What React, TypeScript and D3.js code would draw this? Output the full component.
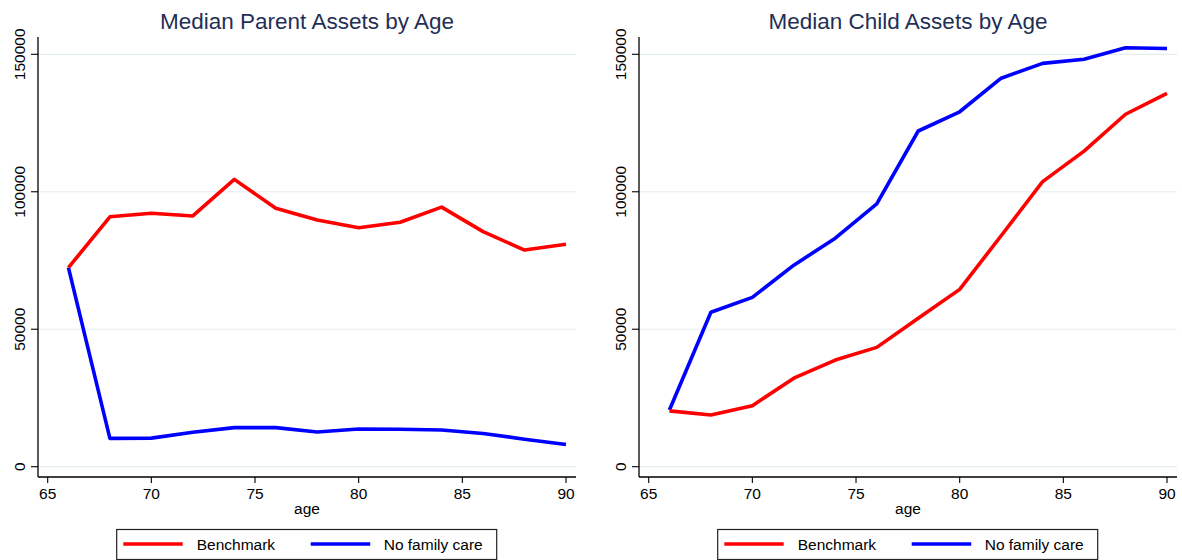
import React from "react";
import * as d3 from "d3";

const ages = [66, 68, 70, 72, 74, 76, 78, 80, 82, 84, 86, 88, 90];
const parentBenchmark = [72400, 90900, 92200, 91200, 104500, 94000, 89700, 86900, 88900, 94400, 85500, 78800, 80900];
const parentNoFamilyCare = [72400, 10300, 10400, 12500, 14200, 14200, 12600, 13700, 13600, 13350, 12100, 10000, 8100];
const childBenchmark = [20300, 18800, 22200, 32200, 38800, 43400, 54000, 64500, 84000, 103700, 114800, 128200, 135800];
const childNoFamilyCare = [20600, 56200, 61600, 73300, 83100, 95600, 122100, 129100, 141300, 146700, 148200, 152400, 152100];
const xTicks = [65, 70, 75, 80, 85, 90];
const yTicks = [0, 50000, 100000, 150000];
const titles = ["Median Parent Assets by Age", "Median Child Assets by Age"];
const seriesNames = ["Benchmark", "No family care"];
const seriesColors = ["#ff0000", "#0000ff"];

const FONT = "'Liberation Sans', Arial, Helvetica, sans-serif";

type PanelProps = { ox: number; title: string; bench: number[]; nfc: number[] };

function Panel({ ox, title, bench, nfc }: PanelProps) {
  const axisLeft = 38;
  const axisRight = 576;
  const axisTop = 37;
  const axisBottom = 477;
  const x = d3.scaleLinear().domain([65, 90]).range([47.7, 566]);
  const y = d3.scaleLinear().domain([0, 150000]).range([466.7, 54.3]);
  const line = d3
    .line<number>()
    .x((_, i) => x(ages[i]))
    .y((d) => y(d));
  const legendLeft = 116.7;
  const legendW = 380;
  return (
    <g transform={`translate(${ox},0)`}>
      <text
        x={(axisLeft + axisRight) / 2}
        y={28.5}
        textAnchor="middle"
        fontFamily={FONT}
        fontSize={22.5}
        fill="#1f2f55"
      >
        {title}
      </text>
      {yTicks.map((t) => (
        <line key={"g" + t} x1={axisLeft} x2={axisRight} y1={y(t)} y2={y(t)} stroke="#e4edf0" strokeWidth={1.2} />
      ))}
      <path d={line(nfc) || ""} fill="none" stroke={seriesColors[1]} strokeWidth={3.6} strokeLinejoin="round" />
      <path d={line(bench) || ""} fill="none" stroke={seriesColors[0]} strokeWidth={3.6} strokeLinejoin="round" />
      <line x1={axisLeft} x2={axisLeft} y1={axisTop} y2={axisBottom} stroke="#000" strokeWidth={1.3} />
      <line x1={axisLeft} x2={axisRight} y1={axisBottom} y2={axisBottom} stroke="#000" strokeWidth={1.3} />
      {yTicks.map((t) => (
        <g key={"y" + t}>
          <line x1={axisLeft - 7} x2={axisLeft} y1={y(t)} y2={y(t)} stroke="#000" strokeWidth={1.1} />
          <text
            transform={`translate(${25},${y(t)}) rotate(-90)`}
            textAnchor="middle"
            fontFamily={FONT}
            fontSize={15.5}
            fill="#000"
          >
            {String(t)}
          </text>
        </g>
      ))}
      {xTicks.map((t) => (
        <g key={"x" + t}>
          <line x1={x(t)} x2={x(t)} y1={axisBottom} y2={axisBottom + 6} stroke="#000" strokeWidth={1.1} />
          <text x={x(t)} y={498.5} textAnchor="middle" fontFamily={FONT} fontSize={15.5} fill="#000">
            {String(t)}
          </text>
        </g>
      ))}
      <text x={(axisLeft + axisRight) / 2} y={514} textAnchor="middle" fontFamily={FONT} fontSize={15.5} fill="#000">
        age
      </text>
      <rect x={legendLeft} y={529.5} width={legendW} height={30} fill="#fff" stroke="#222" strokeWidth={1.2} />
      <line x1={legendLeft + 6.6} x2={legendLeft + 66} y1={544} y2={544} stroke={seriesColors[0]} strokeWidth={3.6} />
      <text x={legendLeft + 80} y={550} fontFamily={FONT} fontSize={15.5} fill="#000">
        {seriesNames[0]}
      </text>
      <line x1={legendLeft + 194} x2={legendLeft + 253.5} y1={544} y2={544} stroke={seriesColors[1]} strokeWidth={3.6} />
      <text x={legendLeft + 267} y={550} fontFamily={FONT} fontSize={15.5} fill="#000">
        {seriesNames[1]}
      </text>
    </g>
  );
}

export default function App() {
  return (
    <div style={{ position: "absolute", left: 0, top: 0 }}>
      <svg width={1182} height={560} style={{ display: "block", background: "#fff" }}>
        <rect width={1182} height={560} fill="#fff" />
        <Panel ox={0} title={titles[0]} bench={parentBenchmark} nfc={parentNoFamilyCare} />
        <Panel ox={601} title={titles[1]} bench={childBenchmark} nfc={childNoFamilyCare} />
      </svg>
    </div>
  );
}
